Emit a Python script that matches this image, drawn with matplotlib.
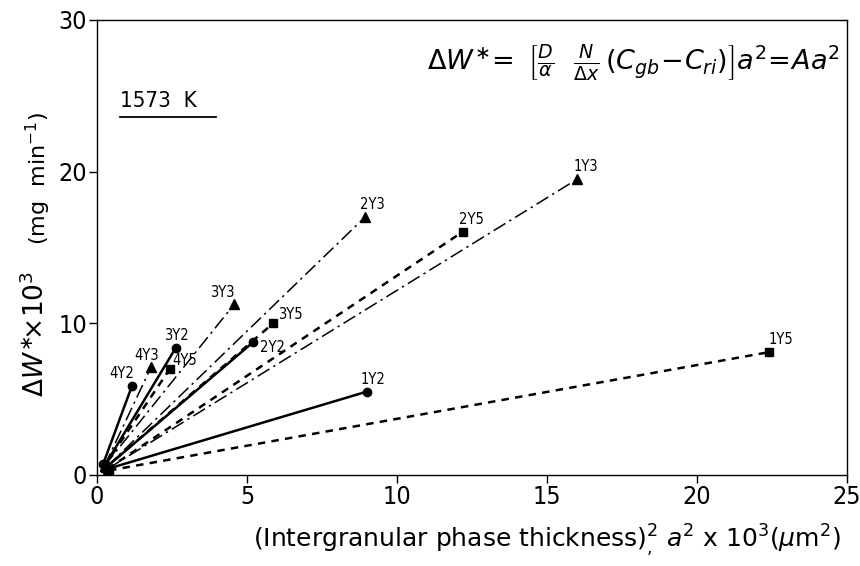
import matplotlib
matplotlib.use("Agg")
import matplotlib.pyplot as plt
from matplotlib.lines import Line2D

# ---- data ----
labels   = ["1Y2", "2Y2", "3Y2", "4Y2",
            "1Y3", "2Y3", "3Y3", "4Y3",
            "1Y5", "2Y5", "3Y5", "4Y5"]
start_x  = [0.35, 0.30, 0.25, 0.20,
            0.35, 0.30, 0.25, 0.25,
            0.40, 0.35, 0.30, 0.25]
start_y  = [0.40, 0.50, 0.60, 0.70,
            0.40, 0.50, 0.60, 0.60,
            0.30, 0.40, 0.50, 0.60]
end_x    = [9.0, 5.2, 2.63, 1.17,
            16.0, 8.93, 4.57, 1.8,
            22.4, 12.2, 5.87, 2.43]
end_y    = [5.5, 8.75, 8.4, 5.9,
            19.5, 17.0, 11.25, 7.1,
            8.1, 16.05, 10.0, 7.0]
x_ticks = [0, 5, 10, 15, 20, 25]
y_ticks = [0, 10, 20, 30]

# styles by Y-group
style = {
    "Y2": dict(ls="-", marker="o", lw=1.8, ms=6),
    "Y3": dict(ls=(0, (9, 3, 1.5, 3)), marker="^", lw=1.1, ms=7),
    "Y5": dict(ls=(0, (3, 2.5)), marker="s", lw=1.8, ms=6),
}
# label offsets in pixels (dx, dy) relative to end marker
offsets = {
    "1Y2": (6, 12), "2Y2": (19, -5), "3Y2": (1, 12), "4Y2": (-10, 12),
    "1Y3": (9, 13), "2Y3": (7, 13), "3Y3": (-12, 12), "4Y3": (-4, 12),
    "1Y5": (12, 13), "2Y5": (8, 12), "3Y5": (17, 9), "4Y5": (15, 8),
}

plt.rcParams['font.family'] = ['DejaVu Sans']
fig = plt.figure(figsize=(8.6, 5.66), dpi=100)
ax = fig.add_axes([0.1128, 0.1608, 0.8722, 0.8039])

for lab, x0, y0, x1, y1 in zip(labels, start_x, start_y, end_x, end_y):
    st = style[lab[1:]]
    ax.plot([x0, x1], [y0, y1], color="black", ls=st["ls"], lw=st["lw"],
            marker=st["marker"], ms=st["ms"], markeredgecolor="black",
            markerfacecolor="black", solid_capstyle="butt", dash_capstyle="butt")
    dx, dy = offsets[lab]
    ax.annotate(lab, (x1, y1), xytext=(dx, dy), textcoords="offset pixels",
                ha="center", va="center", fontsize=10.5, fontstretch="condensed")

ax.set_xlim(0, 25)
ax.set_ylim(0, 30)
ax.set_xticks(x_ticks)
ax.set_yticks(y_ticks)
ax.tick_params(direction="out", length=6, width=1, labelsize=18, pad=1)
for lbl in ax.get_xticklabels() + ax.get_yticklabels():
    lbl.set_fontstretch("condensed")
for s in ax.spines.values():
    s.set_linewidth(1.0)

# equation
ax.text(0.99, 0.905,
        r'$\Delta W^{\ast}\!=\ \left[\frac{D}{\alpha}\ \ \frac{N}{\Delta x}\,(C_{gb}\!-\!C_{ri})\right] a^{2}\!=\!Aa^{2}$',
        transform=ax.transAxes, ha="right", va="center", fontsize=19.5)

# temperature label with underline
ax.text(0.03, 0.80, "1573  K", transform=ax.transAxes, ha="left", va="bottom",
        fontsize=16, fontstretch="condensed")
ax.add_line(Line2D([0.03, 0.158], [0.787, 0.787], transform=ax.transAxes,
                   color="black", lw=1.3))

# axis labels
fig.text(0.042, 0.41, r'$\Delta W^{\ast}\!{\times}10^{3}$', rotation=90,
         ha="center", va="center", fontsize=19)
fig.text(0.045, 0.685, r'(mg  min$^{-1}$)', rotation=90,
         ha="center", va="center", fontsize=16)
fig.text(0.636, 0.044, r'(Intergranular phase thickness)$^{2}_{,}$ $a^{2}$ x 10$^{3}$($\mu$m$^{2}$)',
         ha="center", va="center", fontsize=18)

fig.savefig("out.png", dpi=100)
